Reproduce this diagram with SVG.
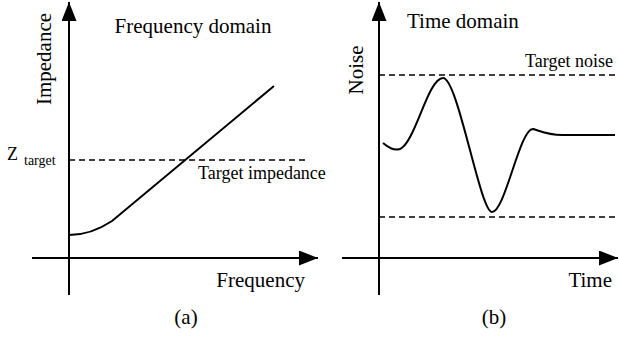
<svg xmlns="http://www.w3.org/2000/svg" width="619" height="337" viewBox="0 0 619 337">
<style>
text { font-family: "Liberation Serif", "Times New Roman", serif; fill: #000; }
.axis { stroke: #000; stroke-width: 2; fill: none; }
.curve { stroke: #000; stroke-width: 2; fill: none; stroke-linejoin: round; }
.dash { stroke: #000; stroke-width: 1.6; stroke-dasharray: 6 4; fill: none; }
.big { font-size: 21px; }
.mid { font-size: 18px; }
</style>
<defs>
<marker id="arrow" viewBox="0 0 19 15" refX="19" refY="7.5" markerWidth="19" markerHeight="15" markerUnits="userSpaceOnUse" orient="auto">
<path d="M0,0 L19,7.5 L0,15 z" fill="#000"/>
</marker>
</defs>
<g id="panel-a">
<g id="axes-a">
<line class="axis" x1="69" y1="295" x2="69" y2="2" marker-end="url(#arrow)"/>
<line class="axis" x1="32" y1="258" x2="318" y2="258" marker-end="url(#arrow)"/>
</g>
<line id="z-target-line" class="dash" x1="69" y1="160" x2="308" y2="160"/>
<path id="impedance-curve" class="curve" d="M69,235 C85,235 100,229 112,221 L274,86"/>
<text class="big" x="193" y="33" text-anchor="middle">Frequency domain</text>
<text class="big" transform="translate(51,59) rotate(-90)" text-anchor="middle">Impedance</text>
<text x="7" y="160" style="font-size:18px">Z</text>
<text x="24" y="165" style="font-size:14px">target</text>
<text class="mid" x="198" y="179">Target impedance</text>
<text class="big" x="305" y="287" text-anchor="end">Frequency</text>
<text class="big" x="186" y="324" text-anchor="middle">(a)</text>
</g>
<g id="panel-b">
<g id="axes-b">
<line class="axis" x1="379" y1="295" x2="379" y2="2" marker-end="url(#arrow)"/>
<line class="axis" x1="342" y1="258" x2="618" y2="258" marker-end="url(#arrow)"/>
</g>
<line id="target-noise-top" class="dash" x1="379" y1="75" x2="618" y2="75"/>
<line id="target-noise-bottom" class="dash" x1="379" y1="217" x2="618" y2="217"/>
<path id="noise-curve" class="curve" d="M383,143 C389,148 394,151 400,149 C415,143 428,78 443,78 C458,78 480,212 492,212 C505,212 520,128 533,129 C540,131 548,135 562,135 L615,135"/>
<text class="big" x="407" y="28">Time domain</text>
<text class="big" transform="translate(363,70) rotate(-90)" text-anchor="middle">Noise</text>
<text class="mid" x="613" y="67" text-anchor="end">Target noise</text>
<text class="big" x="612" y="287" text-anchor="end">Time</text>
<text class="big" x="494" y="324" text-anchor="middle">(b)</text>
</g>
</svg>
